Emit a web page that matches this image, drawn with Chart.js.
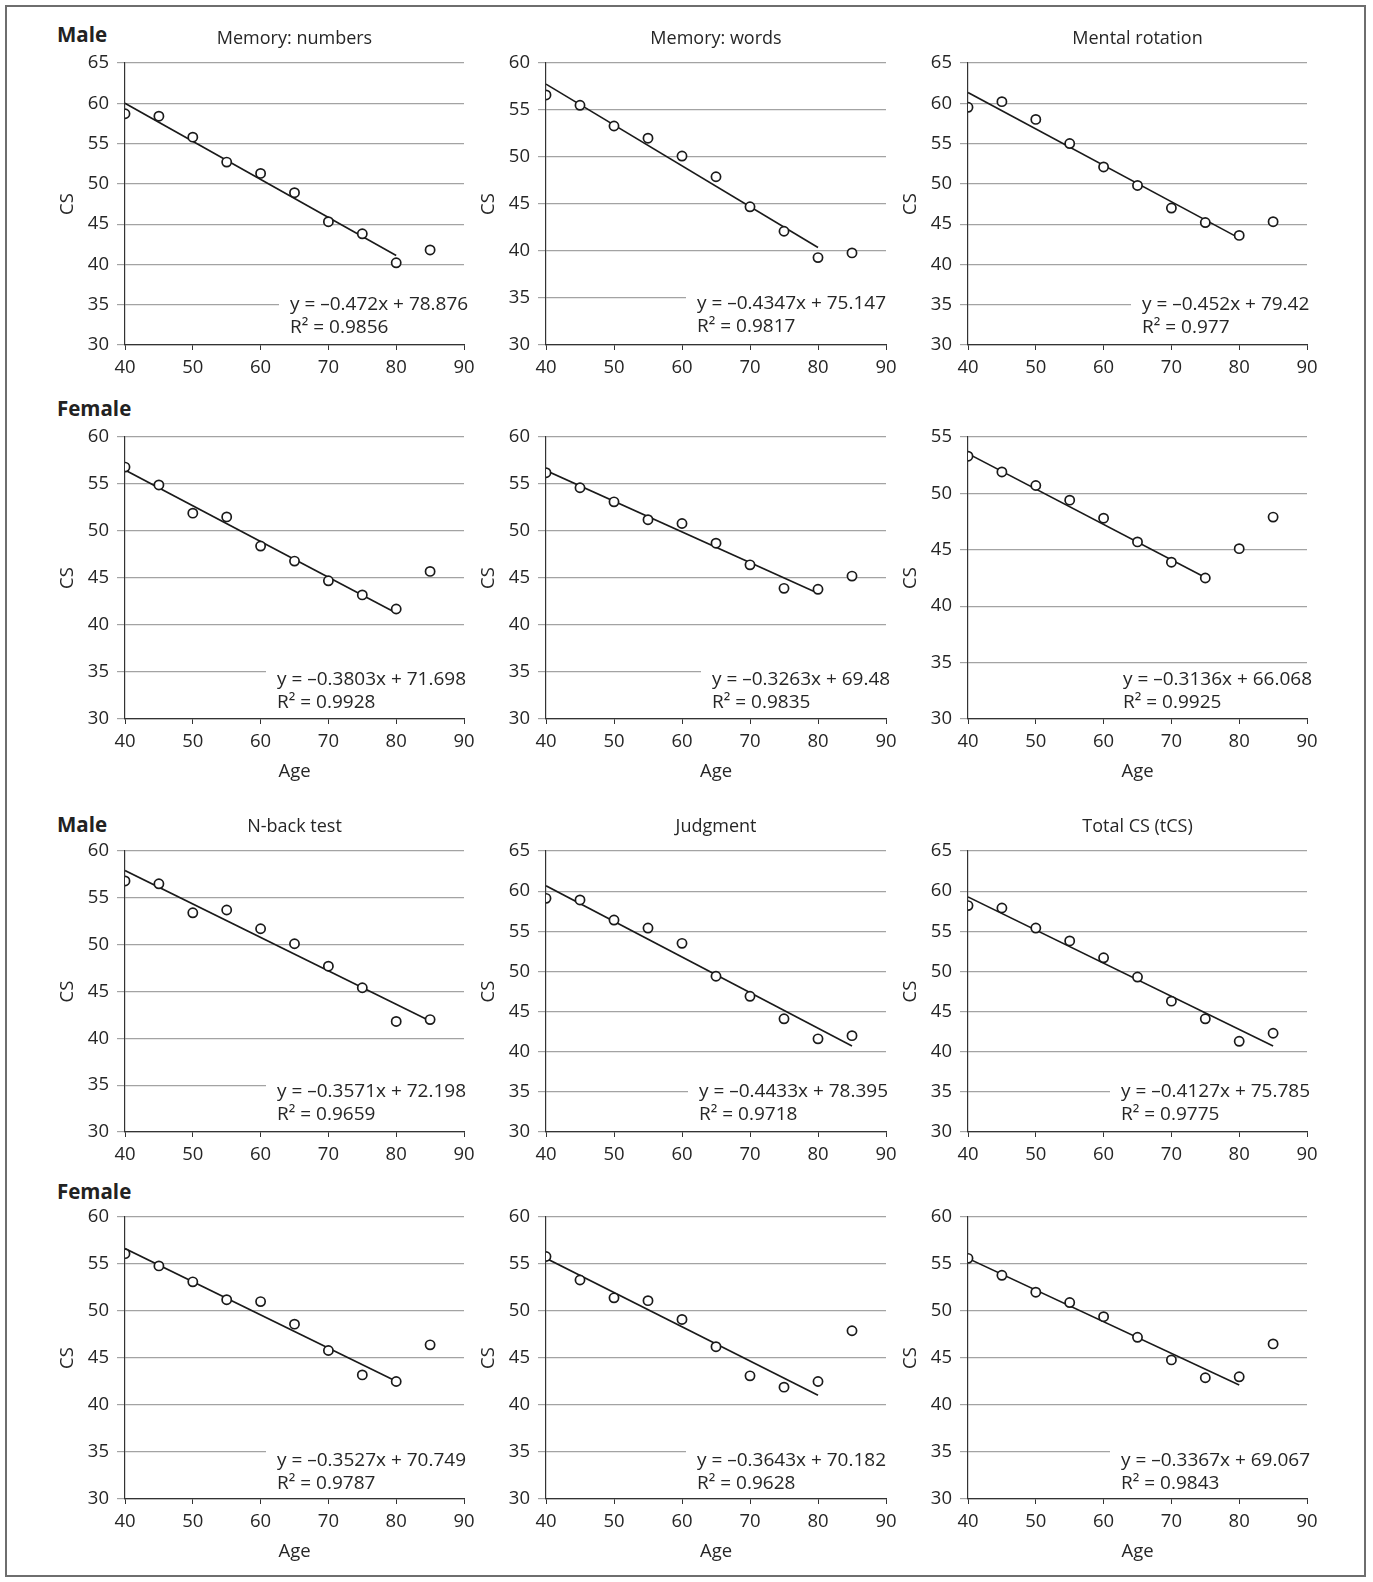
<!DOCTYPE html>
<html>
<head>
<meta charset="utf-8">
<script src="https://cdn.jsdelivr.net/npm/chart.js@4.4.1/dist/chart.umd.min.js"></script>
<style>
  body { margin: 0; background: #fff; }
  #page { position: relative; width: 1373px; height: 1582px; overflow: hidden; }
  #frame { position: absolute; left: 5px; top: 5px; width: 1361px; height: 1572px; box-sizing: border-box; border: 2px solid #6e6e6e; }
  canvas { position: absolute; }
  .sex { position: absolute; left: 57px; font: bold 20.5px 'Open Sans', sans-serif; color: #222; line-height: 24px; }
</style>
</head>
<body>
<div id="page">
  <div id="frame"></div>
  <div class="sex" style="top:22px">Male</div>
  <div class="sex" style="top:396px">Female</div>
  <div class="sex" style="top:812px">Male</div>
  <div class="sex" style="top:1179px">Female</div>
</div>
<script>
// age groups (x) shared by every panel
const ages = [40, 45, 50, 55, 60, 65, 70, 75, 80, 85];
const xTicks = [40, 90];
const titles = ["Memory: numbers", "Memory: words", "Mental rotation", "N-back test", "Judgment", "Total CS (tCS)"];

// CS values
const maleNumbers   = [58.7, 58.4, 55.8, 52.7, 51.3, 48.9, 45.3, 43.8, 40.2, 41.8];
const maleWords     = [56.6, 55.5, 53.3, 52.0, 50.1, 47.9, 44.7, 42.1, 39.3, 39.8];
const maleRotation  = [59.5, 60.2, 58.0, 55.0, 52.1, 49.8, 47.0, 45.2, 43.6, 45.3];
const femaleNumbers = [56.8, 54.9, 51.9, 51.5, 48.4, 46.8, 44.7, 43.2, 41.7, 45.7];
const femaleWords   = [56.2, 54.6, 53.1, 51.2, 50.8, 48.7, 46.4, 43.9, 43.8, 45.2];
const femaleRotation = [53.3, 51.9, 50.7, 49.4, 47.8, 45.7, 43.9, 42.5, 45.1, 47.9];
const maleNback     = [56.8, 56.5, 53.4, 53.7, 51.7, 50.1, 47.7, 45.4, 41.8, 42.0];
const maleJudgment  = [59.1, 58.9, 56.4, 55.4, 53.5, 49.4, 46.9, 44.1, 41.6, 42.0];
const maleTotal     = [58.2, 57.9, 55.4, 53.8, 51.7, 49.3, 46.3, 44.1, 41.3, 42.3];
const femaleNback   = [56.1, 54.8, 53.1, 51.2, 51.0, 48.6, 45.8, 43.2, 42.5, 46.4];
const femaleJudgment = [55.8, 53.3, 51.4, 51.1, 49.1, 46.2, 43.1, 41.9, 42.5, 47.9];
const femaleTotal   = [55.6, 53.8, 52.0, 50.9, 49.4, 47.2, 44.8, 42.9, 43.0, 46.5];

// panels in reading order
const series = [maleNumbers, maleWords, maleRotation, femaleNumbers, femaleWords, femaleRotation,
                maleNback, maleJudgment, maleTotal, femaleNback, femaleJudgment, femaleTotal];
const yMax = [65, 60, 65, 60, 60, 55, 60, 65, 65, 60, 60, 60];
const slopes = [-0.472, -0.4347, -0.452, -0.3803, -0.3263, -0.3136, -0.3571, -0.4433, -0.4127, -0.3527, -0.3643, -0.3367];
const intercepts = [78.876, 75.147, 79.42, 71.698, 69.48, 66.068, 72.198, 78.395, 75.785, 70.749, 70.182, 69.067];
const rSquared = [0.9856, 0.9817, 0.977, 0.9928, 0.9835, 0.9925, 0.9659, 0.9718, 0.9775, 0.9787, 0.9628, 0.9843];
const trendStart = [40, 40, 40, 40, 40, 40, 40, 40, 40, 40, 40, 40];
const trendEnd = [80, 80, 80, 80, 80, 75, 85, 85, 85, 80, 80, 80];

// layout
const colLeft = [125, 546, 968], colWidth = [339, 340, 339];
const rowTop = [63, 437, 851, 1217], rowHeight = [282, 282, 281, 282];
const eqDx = [165, 151, 174, 152, 166, 155, 152, 153, 153, 152, 151, 153];
const eqDy = [-40, -41, -40, -39, -39, -39, -40, -40, -40, -38, -38, -38];
const AXIS_W = 75, TOP_PAD = 45, RIGHT_PAD = 30;
const FONT = "'Open Sans', sans-serif";
const TEXT = "#262626", GRID = "#a3a3a3", AXIS = "#333";

const equationLabel = {
  id: "equationLabel",
  afterDatasetsDraw(chart, args, opts) {
    const { ctx, chartArea } = chart;
    const x = chartArea.left + opts.dx, y = chartArea.bottom + opts.dy;
    ctx.save();
    ctx.font = "19px " + FONT;
    const w = Math.max(...opts.lines.map(l => ctx.measureText(l).width));
    ctx.fillStyle = "#fff";
    ctx.fillRect(x - 11, y - 12, Math.max(w + 14, chartArea.right - x + 12), 46);
    ctx.fillStyle = TEXT;
    ctx.textBaseline = "middle";
    opts.lines.forEach((l, i) => ctx.fillText(l, x, y + i * 23));
    ctx.restore();
  }
};

const page = document.getElementById("page");

series.forEach(function (vals, i) {
  const row = Math.floor(i / 3), col = i % 3;
  const hasTitle = row === 0 || row === 2;
  const hasAge = row === 1 || row === 3;
  const axisH = hasAge ? 65 : 34;
  const w = AXIS_W + colWidth[col] + RIGHT_PAD;
  const h = TOP_PAD + rowHeight[row] + axisH;

  const c = document.createElement("canvas");
  c.width = w; c.height = h;
  c.style.left = (colLeft[col] - AXIS_W) + "px";
  c.style.top = (rowTop[row] - TOP_PAD) + "px";
  c.style.width = w + "px"; c.style.height = h + "px";
  page.appendChild(c);

  const s = slopes[i], b = intercepts[i];
  const tickFont = { family: FONT, size: 18.5 };

  new Chart(c, {
    type: "scatter",
    data: {
      datasets: [
        {
          data: ages.map((a, k) => ({ x: a, y: vals[k] })),
          pointRadius: 4.6,
          pointBorderWidth: 1.7,
          pointBorderColor: "#1a1a1a",
          pointBackgroundColor: "#fff",
        },
        {
          type: "line",
          data: [
            { x: trendStart[i], y: s * trendStart[i] + b },
            { x: trendEnd[i], y: s * trendEnd[i] + b },
          ],
          borderColor: "#1a1a1a",
          borderWidth: 1.6,
          pointRadius: 0,
          fill: false,
        },
      ],
    },
    options: {
      responsive: false,
      animation: false,
      events: [],
      layout: { padding: { left: 0, top: hasTitle ? 0 : TOP_PAD, right: RIGHT_PAD, bottom: 0 } },
      plugins: {
        legend: { display: false },
        tooltip: { enabled: false },
        title: {
          display: hasTitle,
          fullSize: false,
          text: titles[(row === 0 ? 0 : 3) + col],
          color: TEXT,
          font: { family: FONT, size: 18, weight: "normal" },
          padding: { top: 10.2, bottom: 13.2 },
        },
        equationLabel: {
          dx: eqDx[i],
          dy: eqDy[i],
          lines: ["y = \u2013" + Math.abs(s) + "x + " + b, "R\u00b2 = " + rSquared[i]],
        },
      },
      scales: {
        x: {
          type: "linear",
          min: xTicks[0],
          max: xTicks[1],
          afterFit: (sc) => { sc.height = axisH; },
          ticks: { stepSize: 10, padding: 6.9, maxRotation: 0, color: TEXT, font: tickFont },
          grid: { drawOnChartArea: false, drawTicks: true, tickLength: 5, color: AXIS },
          border: { color: AXIS, width: 1.2 },
          title: { display: hasAge, text: "Age", color: TEXT, font: tickFont, padding: { top: 0, bottom: 1.6 } },
        },
        y: {
          min: 30,
          max: yMax[i],
          afterFit: (sc) => { sc.width = AXIS_W; },
          ticks: { stepSize: 5, padding: 8, color: TEXT, font: tickFont },
          grid: { color: GRID, tickLength: 8, lineWidth: 1.2 },
          border: { color: AXIS, width: 1.2 },
          title: { display: true, text: "CS", color: TEXT, font: tickFont, padding: { top: 6.9, bottom: 0 } },
        },
      },
    },
    plugins: [equationLabel],
  });
});
</script>
</body>
</html>
